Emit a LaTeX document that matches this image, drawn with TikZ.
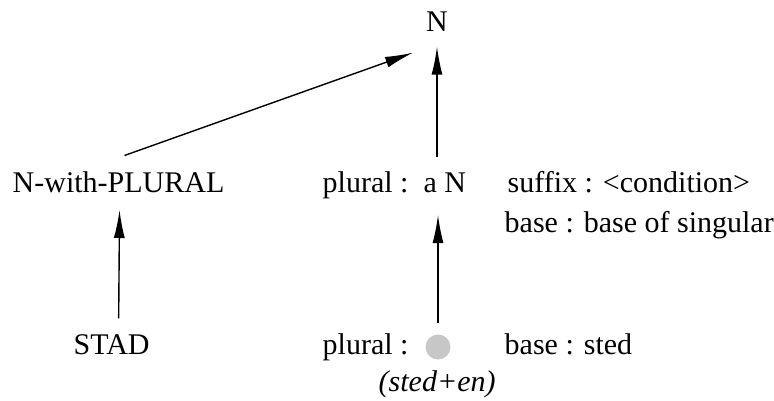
\documentclass[tikz,border=0pt]{standalone}
\usepackage{fontspec}
\setmainfont{Liberation Serif}
\usetikzlibrary{arrows.meta,calc}

\begin{document}
\begin{tikzpicture}[x=1pt, y=1pt,
                    line width=1.4pt,
                    font=\fontsize{30}{36}\selectfont,
                    ]
    \tikzstyle{word}=[inner sep=0pt, anchor=base west]
    \tikzstyle{head}=[word, anchor=base]
    \tikzstyle{gap}=[circle, fill=black!22, minimum size=25pt, inner sep=0pt]
    \tikzstyle{isa}=[-{Latex[length=28pt,width=11pt]}]

    \useasboundingbox (0,0) rectangle (774,-401);

    % top of the hierarchy
    \node[head] (top) at (437,-32) {N};

    % middle row
    \node[word] (nwp) at (12,-193) {N-with-PLURAL};
    \node[word] (pla) at (322,-193) {plural :~~a N};
    \node[word] (suf) at (507,-193) {suffix : \textless condition\textgreater};
    \node[word] (bos) at (504,-233) {base : base of singular};

    % bottom row
    \node[word] (stad) at (73,-354) {STAD};
    \node[word] (plb) at (322,-354) {plural :};
    \node[gap] (dot) at (438,-347) {};
    \node[word] (bst) at (504,-354) {base : sted};
    \node[word] (ste) at (378,-391) {\textit{(sted+en)}};

    \draw[isa] ([xshift=6pt,yshift=16pt]nwp.north) -- ([xshift=-24pt,yshift=-20pt]top.south);
    \draw[isa] ($(pla.north -| top.south)+(0,14)$) -- ([yshift=-14pt]top.south);
    \draw[isa] ([xshift=7pt,yshift=15pt]stad.north) -- ([xshift=1pt,yshift=-16pt]nwp.south);
    \draw[isa] ([yshift=11pt]dot.north) -- ($(pla.south -| dot.north)+(0,-15)$);
\end{tikzpicture}
\end{document}
